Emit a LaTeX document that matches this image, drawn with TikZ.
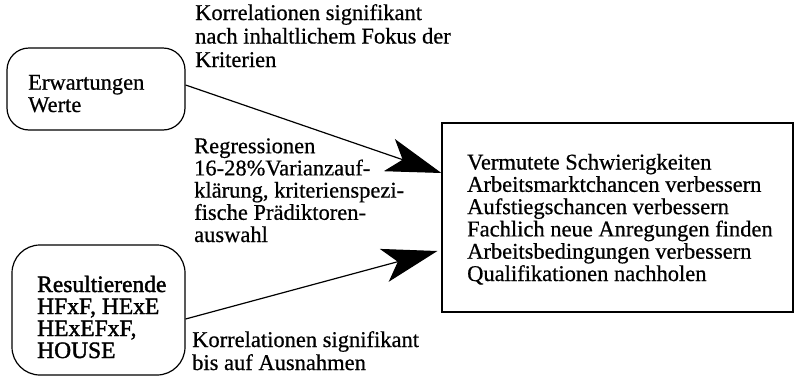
\documentclass[tikz,border=0pt]{standalone}
\usepackage{fontspec}
\setmainfont{Liberation Serif}[FakeBold=0.6]
\newfontfamily\heavyfont{Liberation Serif}[FakeBold=1.6]
\usetikzlibrary{arrows.meta,calc}
\begin{document}
\begin{tikzpicture}[x=1pt,y=-1pt,
  txt/.style={anchor=base west, inner sep=0pt, align=left, font=\fontsize{22.5}{22.3}\selectfont},
  rbox/.style={draw, line width=1.2pt, rounded corners=22pt, inner sep=0pt},
  sbox/.style={draw, line width=1.2pt, inner sep=0pt},
  arr/.style={line width=1.2pt, -{Stealth[length=55pt,width=34pt,inset=14pt]}}]
\useasboundingbox (0,0) rectangle (796,378);
\node[rbox, minimum width=178pt, minimum height=82pt] (b1) at (96,89) {};
\node[rbox, rounded corners=28pt, minimum width=173pt, minimum height=130pt] (b2) at (98.5,310) {};
\node[sbox, minimum width=351pt, minimum height=189pt] (rb) at (617.5,217.5) {};
\node[txt] (t1) at (28,112) {Erwartungen\\Werte};
\node[txt, font=\heavyfont\fontsize{23.5}{22}\selectfont] (t2) at (37,358) {Resultierende\\HFxF, HExE\\HExEFxF,\\HOUSE};
\node[txt] (t3) at (467,281) {Vermutete Schwierigkeiten\\Arbeitsmarktchancen verbessern\\Aufstiegschancen verbessern\\Fachlich neue Anregungen finden\\Arbeitsbedingungen verbessern\\Qualifikationen nachholen};
\node[txt, font=\fontsize{22.5}{23.5}\selectfont] (l1) at (195,67) {Korrelationen signifikant\\nach inhaltlichem Fokus der\\Kriterien};
\node[txt, font=\fontsize{22.5}{22.2}\selectfont] (l2) at (194,242) {Regressionen\\16-28\%Varianzauf-\\klärung, kriterienspezi-\\fische Prädiktoren-\\auswahl};
\node[txt, font=\fontsize{22.5}{23}\selectfont] (l3) at (192,370) {Korrelationen signifikant\\bis auf Ausnahmen};
\draw[arr] ($(b1.east)+(0,-4)$) -- ($(rb.west)+(0,-44.5)$);
\draw[arr] ($(b2.east)+(0,9)$) -- ($(rb.west)+(-4,33.5)$);
\end{tikzpicture}
\end{document}
